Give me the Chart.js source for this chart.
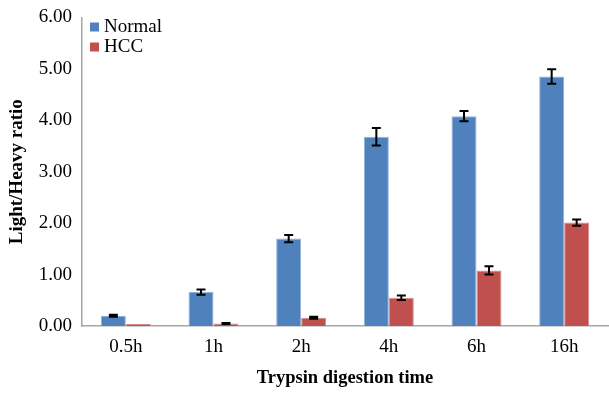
<!DOCTYPE html>
<html>
<head>
<meta charset="utf-8">
<script src="https://cdn.jsdelivr.net/npm/chart.js@4/dist/chart.umd.min.js"></script>
<style>
  html, body { margin: 0; padding: 0; background: #fff; }
  #wrap { width: 609px; height: 393px; position: relative; }
</style>
</head>
<body>
<div id="wrap"><canvas id="c"></canvas></div>
<script>
const categories = ['0.5h', '1h', '2h', '4h', '6h', '16h'];
const normalValues = [0.20, 0.66, 1.70, 3.68, 4.08, 4.85];
const normalErrors = [0.02, 0.05, 0.07, 0.17, 0.10, 0.14];
const hccValues = [0.04, 0.05, 0.16, 0.55, 1.08, 2.01];
const hccErrors = [0.00, 0.01, 0.02, 0.045, 0.08, 0.06];
const yTicks = [0, 1, 2, 3, 4, 5, 6];

const serif = '"Liberation Serif", "Times New Roman", serif';

// error bars drawn from the value scale
const errorBars = {
  id: 'errorBars',
  afterDatasetsDraw(chart) {
    const ctx = chart.ctx;
    const y = chart.scales.y;
    ctx.save();
    ctx.strokeStyle = '#000';
    ctx.lineWidth = 2;
    chart.data.datasets.forEach((ds, i) => {
      const meta = chart.getDatasetMeta(i);
      meta.data.forEach((bar, j) => {
        const err = ds.errors[j];
        if (!err) return;
        const yTop = y.getPixelForValue(ds.data[j] + err);
        const yBot = y.getPixelForValue(ds.data[j] - err);
        const x = bar.x;
        ctx.beginPath();
        ctx.moveTo(x, yTop); ctx.lineTo(x, yBot);
        ctx.moveTo(x - 4.5, yTop); ctx.lineTo(x + 4.5, yTop);
        ctx.moveTo(x - 4.5, yBot); ctx.lineTo(x + 4.5, yBot);
        ctx.stroke();
      });
    });
    ctx.restore();
  }
};

// legend inside the plot, top left
const insideLegend = {
  id: 'insideLegend',
  afterDraw(chart) {
    const ctx = chart.ctx;
    const left = chart.chartArea.left + 8;
    ctx.save();
    ctx.font = '19px ' + serif;
    ctx.textBaseline = 'middle';
    chart.data.datasets.forEach((ds, i) => {
      const cy = 27 + i * 20;
      ctx.fillStyle = ds.backgroundColor;
      ctx.fillRect(left, cy - 4.5, 9, 9);
      ctx.fillStyle = '#000';
      ctx.fillText(ds.label, left + 14, cy);
    });
    ctx.restore();
  }
};

new Chart(document.getElementById('c'), {
  type: 'bar',
  data: {
    labels: categories,
    datasets: [
      {
        label: 'Normal',
        data: normalValues,
        errors: normalErrors,
        backgroundColor: '#4F81BD',
        borderColor: '#8FB1DC',
        borderWidth: 1,
        barPercentage: 1,
        categoryPercentage: 0.57
      },
      {
        label: 'HCC',
        data: hccValues,
        errors: hccErrors,
        backgroundColor: '#C0504D',
        borderColor: '#D98C8A',
        borderWidth: 1,
        barPercentage: 1,
        categoryPercentage: 0.57
      }
    ]
  },
  options: {
    responsive: true,
    maintainAspectRatio: false,
    animation: false,
    layout: { padding: { top: 15, right: 1, left: 0, bottom: 0 } },
    plugins: {
      legend: { display: false },
      tooltip: { enabled: false }
    },
    scales: {
      x: {
        grid: { display: false, drawTicks: false },
        border: { color: '#a6a6a6', width: 1.5 },
        ticks: { color: '#000', font: { family: serif, size: 19 }, padding: 10 },
        title: {
          display: true,
          text: 'Trypsin digestion time',
          color: '#000',
          font: { family: serif, size: 18.5, weight: 'bold' },
          padding: { top: 14 }
        },
        afterFit(scale) { scale.height = 67; }
      },
      y: {
        min: 0,
        max: 6,
        afterBuildTicks(scale) { scale.ticks = yTicks.map(v => ({ value: v })); },
        grid: { display: false, drawTicks: true, tickLength: 4, tickColor: '#a6a6a6' },
        border: { color: '#a6a6a6', width: 1.5 },
        ticks: {
          color: '#000',
          font: { family: serif, size: 19 },
          padding: 6,
          callback: v => v.toFixed(2)
        },
        title: {
          display: true,
          text: 'Light/Heavy ratio',
          color: '#000',
          font: { family: serif, size: 19, weight: 'bold' },
          padding: { top: 6, bottom: 2 }
        },
        afterFit(scale) { scale.width = 82; }
      }
    }
  },
  plugins: [errorBars, insideLegend]
});
</script>
</body>
</html>
